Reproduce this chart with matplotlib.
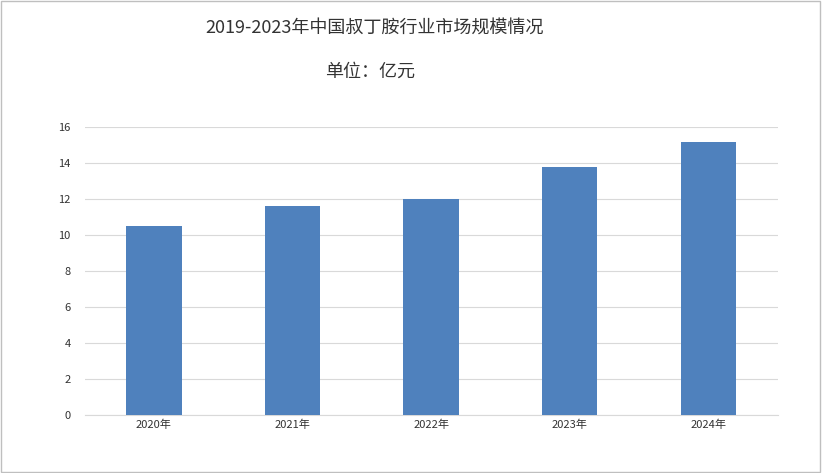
import matplotlib.pyplot as plt

plt.rcParams['font.family'] = ['Noto Sans CJK SC', 'DejaVu Sans']

years = ['2020年', '2021年', '2022年', '2023年', '2024年']
values = [10.5, 11.6, 12.0, 13.8, 15.2]

fig = plt.figure(figsize=(8.22, 4.73), dpi=100)
ax = fig.add_axes([0.103, 0.123, 0.843, 0.608])

ax.bar(years, values, width=0.4, color='#4F81BD', zorder=3)
ax.set_ylim(0, 16)
ax.set_yticks(range(0, 17, 2))
ax.set_xlim(-0.5, 4.5)
ax.grid(axis='y', color='#d9d9d9', linewidth=0.8, zorder=0)
for s in ['top', 'right', 'left']:
    ax.spines[s].set_visible(False)
ax.spines['bottom'].set_color('#d9d9d9')
ax.tick_params(axis='both', length=0, labelsize=8, colors='#333333')
ax.tick_params(axis='y', pad=10)

fig.text(0.456, 0.941, '2019-2023年中国叔丁胺行业市场规模情况', ha='center', va='center', fontsize=13, color='#333333')
fig.text(0.45, 0.848, '单位：亿元', ha='center', va='center', fontsize=13, color='#333333')

fig.patches.append(plt.Rectangle((0.001, 0.002), 0.997, 0.996, transform=fig.transFigure,
                                 fill=False, edgecolor='#bfbfbf', linewidth=1))
fig.savefig('out.png', dpi=100)
